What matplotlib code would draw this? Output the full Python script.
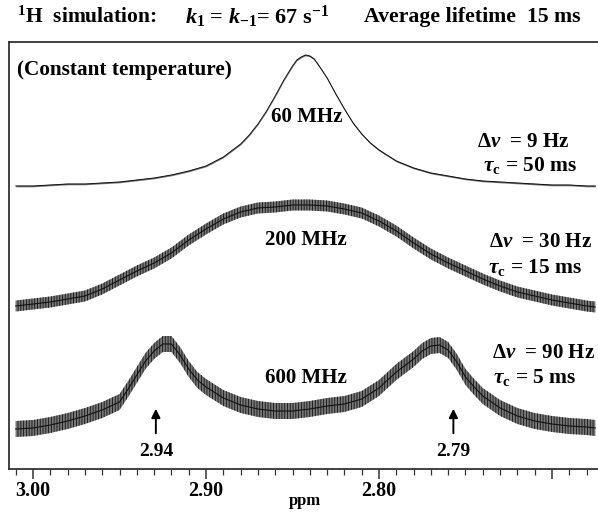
import matplotlib
matplotlib.use("Agg")
import matplotlib.pyplot as plt
import numpy as np
from matplotlib.ticker import MultipleLocator

plt.rcParams["font.family"] = ["Liberation Serif", "DejaVu Serif"]
plt.rcParams["font.weight"] = "bold"
plt.rcParams["mathtext.fontset"] = "custom"
plt.rcParams["mathtext.rm"] = "Liberation Serif:bold"
plt.rcParams["mathtext.it"] = "Liberation Serif:italic:bold"
plt.rcParams["mathtext.bf"] = "Liberation Serif:bold"
plt.rcParams["hatch.linewidth"] = 0.6

# Chemical shift axis samples (ppm) and intensities (arbitrary units, stacked)
ppm_60 = [3.01, 3.00, 2.99, 2.98, 2.97, 2.96, 2.95, 2.94, 2.93, 2.92, 2.91, 2.90,
          2.89, 2.88, 2.875, 2.87, 2.865, 2.86, 2.855, 2.85, 2.8475, 2.845, 2.8425,
          2.84, 2.8375, 2.835, 2.83, 2.825, 2.82, 2.815, 2.81, 2.805, 2.80, 2.79,
          2.78, 2.77, 2.76, 2.75, 2.74, 2.73, 2.72, 2.71, 2.70, 2.69, 2.68, 2.675]
int_60 = [283, 283, 284, 285, 285, 286, 287, 289, 291, 294, 298, 303,
          312, 325, 334, 345, 358, 373, 389, 403, 409, 412, 414,
          413, 410, 404, 391, 375, 360, 346, 335, 326, 319, 308,
          301, 296, 293, 290, 288, 287, 286, 285, 284, 284, 283, 283]

ppm_200 = [3.01, 3.00, 2.99, 2.98, 2.97, 2.96, 2.95, 2.94, 2.93, 2.92, 2.91, 2.90,
           2.89, 2.88, 2.87, 2.86, 2.85, 2.84, 2.83, 2.82, 2.81, 2.80, 2.79,
           2.78, 2.77, 2.76, 2.75, 2.74, 2.73, 2.72, 2.71, 2.70, 2.69, 2.68, 2.675]
int_200 = [163, 165, 167, 170, 173, 180, 189, 198, 206, 216, 229, 240,
           250, 257, 261, 262, 264, 264, 263, 260, 256, 248, 238,
           226, 215, 206, 198, 190, 183, 177, 173, 169, 166, 163, 162]

ppm_600 = [3.01, 3.00, 2.99, 2.98, 2.97, 2.96, 2.95, 2.945, 2.94, 2.935, 2.93,
           2.925, 2.92, 2.915, 2.91, 2.905, 2.90, 2.89, 2.88, 2.87, 2.86, 2.85,
           2.84, 2.83, 2.82, 2.81, 2.80, 2.79, 2.78, 2.775, 2.77, 2.765, 2.76,
           2.755, 2.75, 2.745, 2.74, 2.73, 2.72, 2.71, 2.70, 2.69, 2.68, 2.675]
int_600 = [40, 41, 44, 48, 53, 59, 67, 80, 94, 108, 118,
           125, 125, 114, 100, 89, 82, 71, 64, 60, 58, 58,
           60, 63, 65, 70, 81, 97, 110, 118, 123, 124, 119,
           107, 92, 82, 73, 61, 53, 48, 45, 43, 42, 41]

# Visible noise spread of each simulated trace (same units as intensity)
noise_60, noise_200, noise_600 = 0.8, 5.5, 8.0

field_labels = ["60 MHz", "200 MHz", "600 MHz"]
dnu_labels = [r"$\Delta\nu$  = 9 Hz", r"$\Delta\nu$  = 30 Hz", r"$\Delta\nu$  = 90 Hz"]
tau_labels = [r"$\tau_{\mathrm{c}}$ = 50 ms", r"$\tau_{\mathrm{c}}$ = 15 ms", r"$\tau_{\mathrm{c}}$ = 5 ms"]
arrow_ppm = [2.929, 2.757]
arrow_labels = ["2.94", "2.79"]
labelled_ticks = [3.00, 2.90, 2.80]

W, H = 598, 512
fig = plt.figure(figsize=(W / 100, H / 100), dpi=100)
ax = fig.add_axes([9 / W, 43 / H, 1 - 9 / W, 427 / H])

for p, y, w, lw, hatch in [(ppm_60, int_60, noise_60, 0.7, None),
                           (ppm_200, int_200, noise_200, 0.8, "||||||"),
                           (ppm_600, int_600, noise_600, 0.8, "||||||")]:
    p = np.asarray(p)
    y = np.asarray(y, dtype=float)
    ax.fill_between(p, y - w, y + w, facecolor="#767676", edgecolor="#151515",
                    hatch=hatch, lw=0)
    ax.plot(p, y, color="#111111", lw=lw)

ax.set_xlim(3.0139, 2.6734)
ax.set_ylim(0, 427)

ax.xaxis.set_major_locator(MultipleLocator(0.1))
ax.xaxis.set_minor_locator(MultipleLocator(0.01))
ax.xaxis.set_major_formatter(plt.FuncFormatter(
    lambda v, _: f"{v:.2f}" if any(abs(v - t) < 1e-6 for t in labelled_ticks) else ""))
ax.tick_params(axis="x", which="major", length=7, width=1.1, direction="out",
               labelsize=14.5, pad=2, color="#333333")
ax.tick_params(axis="x", which="minor", length=4, width=0.9, direction="out", color="#333333")
ax.set_yticks([])
for lab in ax.get_xticklabels():
    lab.set_fontweight("bold")

for side in ["left", "top", "bottom"]:
    ax.spines[side].set_color("#333333")
    ax.spines[side].set_linewidth(1.3)
ax.spines["right"].set_visible(False)

# Axis title placed just under the tick labels
fig.text(305 / W, 1 - 501 / H, "ppm", fontsize=12, fontweight="bold",
         ha="center", va="center")

# Header line
fig.text(17 / W, 1 - 17 / H, r"$^{1}$H  simulation:",
         fontsize=15.5, fontweight="bold", ha="left", va="center")
fig.text(185 / W, 1 - 17 / H, r"$k_1$ = $k_{-1}$= 67 s$^{-1}$",
         fontsize=16, fontweight="bold", ha="left", va="center")
fig.text(581 / W, 1 - 17 / H, "Average lifetime  15 ms",
         fontsize=15.7, fontweight="bold", ha="right", va="center")

ax.text(3.0092, 399, "(Constant temperature)", fontsize=15.3, fontweight="bold",
        ha="left", va="center")

field_pos = [(2.842, 352), (2.842, 229), (2.842, 91)]
for (x, y), t in zip(field_pos, field_labels):
    ax.text(x, y, t, fontsize=15, fontweight="bold", ha="center", va="center")


def px_to_ppm(xp):
    return 3.00 - (xp - 33) / 1730


dnu_pos = [(570, 327), (592, 227), (595, 116)]
tau_pos = [(577, 304), (582, 202), (577, 92)]
for (xp, y), t in zip(dnu_pos, dnu_labels):
    ax.text(px_to_ppm(xp), y, t, fontsize=15, ha="right", va="center")
for (xp, y), t in zip(tau_pos, tau_labels):
    ax.text(px_to_ppm(xp), y, t, fontsize=15.5, ha="right", va="center")

for x, t in zip(arrow_ppm, arrow_labels):
    ax.annotate("", xy=(x, 63), xytext=(x, 33),
                arrowprops=dict(arrowstyle="-|>", lw=1.4, color="black", mutation_scale=13))
    ax.text(x, 17, t, fontsize=14, fontweight="bold", ha="center", va="center")

fig.savefig("out.png", dpi=100)
